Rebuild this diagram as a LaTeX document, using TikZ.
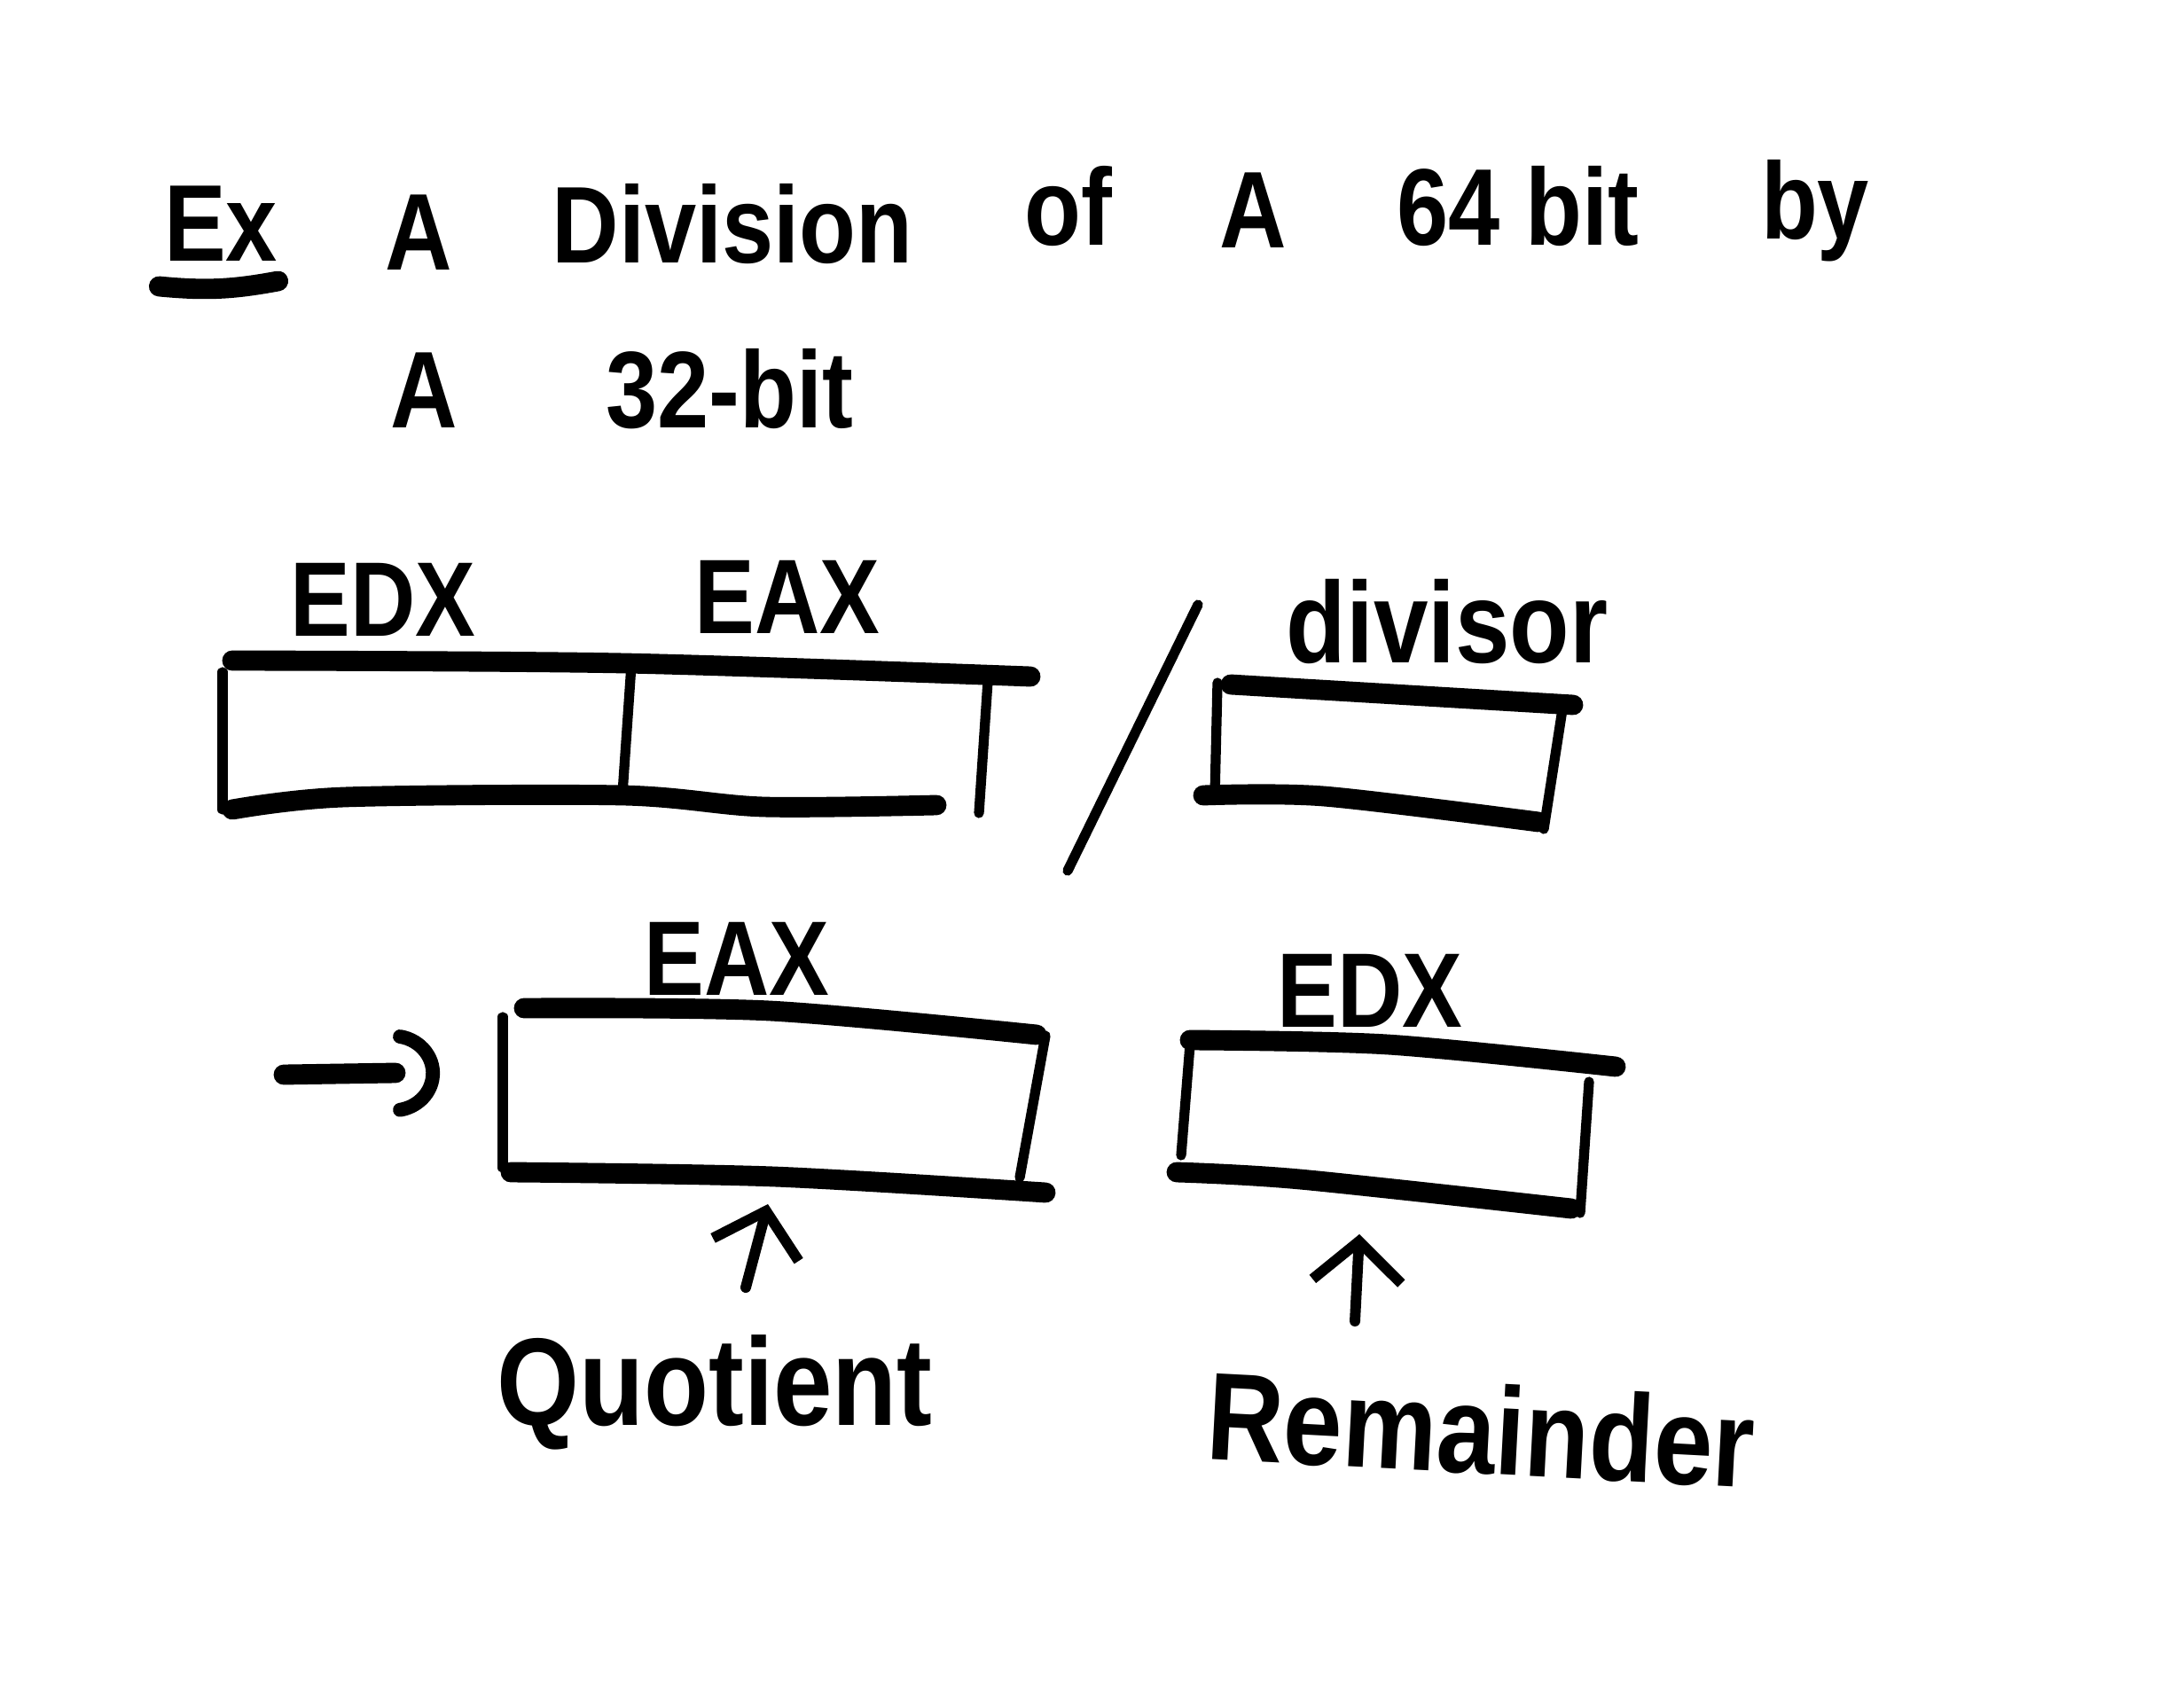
\documentclass[tikz,border=0pt]{standalone}
\usepackage{fontspec}
\setmainfont{Liberation Sans}[FakeStretch=0.85]
\usetikzlibrary{arrows.meta}
\tikzset{
    every picture/.style={line cap=round,line join=round},
    hand/.style={inner sep=0pt,anchor=base,font=\fontsize{35}{40}\selectfont\bfseries},
    reglabel/.style={hand,font=\fontsize{34}{38}\selectfont\bfseries},
    bigword/.style={hand,font=\fontsize{40}{46}\selectfont\bfseries},
    lidline/.style={line width=6.5pt},
    sideline/.style={line width=3.2pt},
    uparrow/.style={-{Straight Barb[length=4.5mm,width=10mm,line width=3.4pt]},
      line width=3.4pt},
    arcstroke/.style={line width=4.5pt}
}
\begin{document}
\begin{tikzpicture}
  \useasboundingbox[fill=white] (0,0) rectangle (24.63,-19.15);

  % heading
  \node[hand] (ex) at (2.49,-2.95) {Ex};
  \draw[lidline] ([shift={(-0.05,-0.28)}]ex.base west)
    to[bend right=8] ([shift={(0,-0.22)}]ex.base east);
  \node[hand] (a1) at (4.72,-3.05) {A};
  \node[hand] (division) at (8.26,-2.97) {Division};
  \node[hand] (of) at (12.05,-2.77) {of};
  \node[hand] (a2) at (14.13,-2.80) {A};
  \node[hand] (sixtyfour) at (17.12,-2.77) {64 bit};
  \node[hand] (by) at (20.47,-2.70) {by};
  \node[hand] (a3) at (4.78,-4.83) {A};
  \node[hand] (thirtytwo) at (8.23,-4.83) {32-bit};

  % dividend EDX:EAX
  \node[reglabel] (edxtop) at (4.32,-7.18) {EDX};
  \node[reglabel] (eaxtop) at (8.88,-7.15) {EAX};
  \draw[lidline] plot[smooth] coordinates {(2.62,-7.45) (7.04,-7.48) (11.62,-7.63)};
  \draw[lidline] plot[smooth] coordinates
    {(2.62,-9.13) (3.88,-8.99) (7.03,-8.97) (8.61,-9.10) (10.56,-9.08)};
  \draw[sideline] (2.51,-7.58) -- (2.51,-9.13);
  \draw[sideline] (7.12,-7.50) -- (7.02,-8.95);
  \draw[sideline] (11.14,-7.68) -- (11.04,-9.17);

  % slash
  \draw[sideline] (13.51,-6.82) -- (12.04,-9.82);

  % divisor
  \node[reglabel,font=\fontsize{37}{40}\selectfont\bfseries] (divisor) at (16.32,-7.48) {divisor};
  \draw[lidline] (13.88,-7.72) -- (17.74,-7.95);
  \draw[lidline] plot[smooth] coordinates {(13.57,-8.97) (14.93,-8.98) (17.35,-9.27)};
  \draw[sideline] (13.73,-7.70) -- (13.70,-8.98);
  \draw[sideline] (17.62,-8.00) -- (17.41,-9.35);

  % quotient register
  \node[reglabel] (eaxbot) at (8.31,-11.22) {EAX};
  \draw[lidline] plot[smooth] coordinates {(5.91,-11.37) (8.68,-11.40) (11.69,-11.67)};
  \draw[lidline] plot[smooth] coordinates {(5.76,-13.22) (8.73,-13.27) (11.79,-13.45)};
  \draw[sideline] (5.67,-11.47) -- (5.67,-13.17);
  \draw[sideline] (11.79,-11.68) -- (11.50,-13.28);
  \coordinate (intail) at (3.20,-12.12);
  \coordinate (inhead) at (4.88,-12.10);
  \draw[lidline] (intail) -- ([xshift=-4.2mm]inhead);
  \draw[arcstroke] ([shift={(-0.37,0.41)}]inhead)
    arc[start angle=80,end angle=-80,x radius=0.45,y radius=0.42];

  % remainder register
  \node[reglabel] (edxbot) at (15.45,-11.58) {EDX};
  \draw[lidline] plot[smooth] coordinates {(13.42,-11.73) (15.65,-11.78) (18.22,-12.03)};
  \draw[lidline] plot[smooth] coordinates {(13.27,-13.22) (14.66,-13.30) (17.72,-13.63)};
  \draw[sideline] (13.42,-11.78) -- (13.32,-13.03);
  \draw[sideline] (17.92,-12.20) -- (17.82,-13.68);

  % result labels
  \coordinate (qtail) at (8.41,-14.52);
  \coordinate (qhead) at (8.66,-13.58);
  \draw[uparrow] (qtail) -- (qhead);
  \node[bigword] (quotient) at (8.06,-16.07) {Quotient};

  \coordinate (rtail) at (15.28,-14.90);
  \coordinate (rhead) at (15.33,-13.92);
  \draw[uparrow] (rtail) -- (rhead);
  \node[bigword,rotate=-3] (remainder) at (16.68,-16.62) {Remainder};
\end{tikzpicture}
\end{document}
